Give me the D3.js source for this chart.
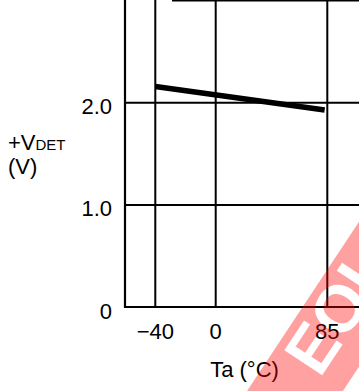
<!DOCTYPE html>
<html><head><meta charset="utf-8">
<script src="https://cdn.jsdelivr.net/npm/d3@7"></script>
<style>
html,body{margin:0;padding:0;background:#fff;}
svg{display:block;}
text{font-family:"Liberation Sans",Arial,sans-serif;fill:#000;}
</style></head>
<body>
<svg id="c" width="359" height="391"></svg>
<script>
// Data
const yTicks = [0, 1.0, 2.0];
const yTickLabels = ["0", "1.0", "2.0"];
const xTicks = [-40, 0, 85];
const xTickLabels = ["\u221240", "0", "85"];
const gridX = [-40, 0, 85];
const gridY = [1.0, 2.0, 3.0];
const temps = [-40, 83];
const vdet = [2.16, 1.93];

const svg = d3.select("#c");
// piecewise (schematic) temperature scale as in the original drawing
const x = d3.scaleLinear().domain([-60, -40, 0, 85, 110]).range([125, 155.3, 215.7, 327.3, 360]);
const y = d3.scaleLinear().domain([0, 3]).range([307, 0.8]);

const right = 360;
// grid horizontal
svg.append("g").selectAll("line").data(gridY).join("line")
  .attr("x1", d => d === 3 ? 172 : x(-60)).attr("x2", right)
  .attr("y1", d => y(d)).attr("y2", d => y(d))
  .attr("stroke", "#000").attr("stroke-width", d => d === 3 ? 1.6 : 2);
// grid vertical
svg.append("g").selectAll("line").data(gridX).join("line")
  .attr("x1", d => x(d)).attr("x2", d => x(d))
  .attr("y1", y(0)).attr("y2", 0)
  .attr("stroke", "#000").attr("stroke-width", 2);
// frame: left axis and bottom axis
svg.append("line").attr("x1", x(-60)).attr("x2", x(-60)).attr("y1", y(0)+1).attr("y2", 0)
  .attr("stroke", "#000").attr("stroke-width", 2.2);
svg.append("line").attr("x1", x(-60)-1).attr("x2", right).attr("y1", y(0)).attr("y2", y(0))
  .attr("stroke", "#000").attr("stroke-width", 2.2);

// data line
const pts = temps.map((t, i) => [t, vdet[i]]);
svg.append("path").datum(pts)
  .attr("d", d3.line().x(d => x(d[0])).y(d => y(d[1])))
  .attr("fill", "none").attr("stroke", "#000").attr("stroke-width", 5.5).attr("stroke-linecap", "butt");

// y tick labels
svg.append("g").selectAll("text").data(yTicks).join("text")
  .attr("x", 112).attr("y", d => y(d) + 11.5)
  .attr("text-anchor", "end").attr("font-size", 22)
  .text((d, i) => yTickLabels[i]);
// x tick labels
svg.append("g").selectAll("text").data(xTicks).join("text")
  .attr("x", d => x(d)).attr("y", 338.5)
  .attr("text-anchor", "middle").attr("font-size", 22)
  .text((d, i) => xTickLabels[i]);

// axis titles
const yt = svg.append("text").attr("x", 8).attr("y", 150).attr("font-size", 22);
yt.append("tspan").text("+V");
yt.append("tspan").attr("font-size", 15).text("DET");
svg.append("text").attr("x", 8).attr("y", 174).attr("font-size", 22).text("(V)");
svg.append("text").attr("x", 244.5).attr("y", 377).attr("text-anchor", "middle").attr("font-size", 22).text("Ta (\u00B0C)");

// watermark stamp: translucent red band with knocked-out letters (mostly off-canvas)
const defs = svg.append("defs");
const mask = defs.append("mask").attr("id", "wm")
  .attr("maskUnits", "userSpaceOnUse").attr("x", -200).attr("y", -50).attr("width", 700).attr("height", 200);
mask.append("rect").attr("x", -200).attr("y", -50).attr("width", 700).attr("height", 200).attr("fill", "#fff");
mask.append("text").attr("x", 50).attr("y", 54)
  .attr("font-size", 66).attr("font-weight", "bold")
  .style("fill", "#000").text("EOL");
const wm = svg.append("g").attr("transform", "translate(247,391) rotate(-56.5)");
wm.append("rect").attr("x", -150).attr("y", 0).attr("width", 550).attr("height", 80)
  .attr("fill", "#ff0000").attr("fill-opacity", 0.37).attr("mask", "url(#wm)");
</script>
</body></html>
